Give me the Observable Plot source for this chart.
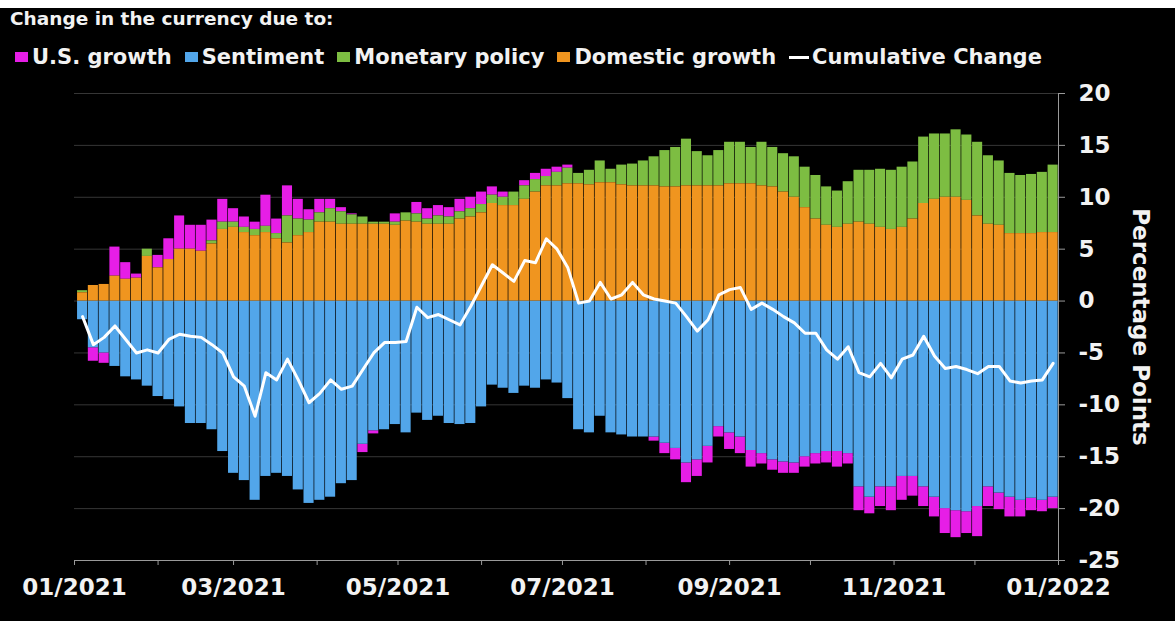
<!DOCTYPE html>
<html><head><meta charset="utf-8">
<script src="https://cdn.jsdelivr.net/npm/d3@7"></script>
<script src="https://cdn.jsdelivr.net/npm/@observablehq/plot@0.6"></script>
<style>
html,body{margin:0;padding:0;background:#fff;}
#wrap{position:absolute;left:0;top:8px;width:1175px;height:613px;background:#000;overflow:hidden;font-family:"DejaVu Sans",Verdana,sans-serif;font-weight:bold;color:#f2f2f2;}
#title{position:absolute;left:10px;top:0px;font-size:18.5px;line-height:21px;}
#legend{position:absolute;left:15px;top:38px;font-size:21px;line-height:22px;display:flex;align-items:center;white-space:nowrap;}
.item{display:flex;align-items:center;margin-right:13px;}
.sw{width:13px;height:10px;margin-right:4px;}
.ln{width:20px;height:3px;background:#fff;margin-right:3px;}
#chart{position:absolute;left:0;top:72px;}
</style></head><body>
<div id="wrap"><div id="title"></div><div id="legend"></div><div id="chart"></div></div>
<script>
const titleText = "Change in the currency due to:";
const seriesNames = ["U.S. growth", "Sentiment", "Monetary policy", "Domestic growth"];
const seriesColors = ["#e61ee6", "#52a6ea", "#7dbd42", "#f0951f"];
const stackOrder = ["Domestic growth", "Monetary policy", "Sentiment", "U.S. growth"];
const lineName = "Cumulative Change";
const yLabel = "Percentage Points";
const startDate = "2021-01-04";
const endDate = "2022-01-01";
const stepDays = 4;
const yTicks = [20, 15, 10, 5, 0, -5, -10, -15, -20, -25];

const domestic = [0.8,1.5,1.6,2.4,2.1,2.2,4.3,3.2,4.0,5.0, 5.0,4.8,5.5,6.9,7.1,6.6,6.3,6.6,6.0,5.6, 6.3,6.6,7.6,7.6,7.4,7.4,7.4,7.4,7.4,7.3, 7.7,7.6,7.4,7.4,7.4,7.9,8.1,8.5,9.4,9.2, 9.2,9.8,10.5,11.1,11.1,11.3,11.3,11.2,11.4,11.4, 11.2,11.1,11.1,11.1,11.0,11.0,11.1,11.1,11.1,11.1, 11.3,11.3,11.3,11.1,11.0,10.5,10.0,9.0,7.9,7.3, 7.1,7.4,7.6,7.4,7.1,6.9,7.1,7.9,9.4,9.8, 10.0,10.0,9.7,8.2,7.4,7.3,6.5,6.5,6.5,6.6, 6.6];
const monetary = [0.2,0,0,0,0,0,0.7,0,0,0, 0,0,0.3,0.7,0.5,0.5,0.6,0.6,0.5,2.6, 1.6,1.2,0.9,1.3,1.2,0.9,0.7,0.2,0.2,0.3, 0.8,0.8,0.5,0.8,0.7,0.7,0.8,0.8,0.8,0.8, 1.3,1.3,1.2,0.9,1.3,1.5,1.0,1.4,2.1,1.3, 1.9,2.1,2.4,2.8,3.5,3.8,4.5,3.3,2.9,3.4, 4.0,4.0,3.5,4.2,3.8,3.7,3.9,3.9,4.2,3.7, 3.5,4.1,5.0,5.2,5.6,5.7,5.8,5.5,6.4,6.3, 6.1,6.5,6.3,7.1,6.6,6.2,5.8,5.6,5.7,5.8, 6.5];
const usGrowth = [0,-1.3,-1.0,2.8,1.6,0.4,0,1.2,2.0,3.2, 2.3,2.5,2.0,2.2,1.3,1.0,0.7,3.0,1.4,2.9, 1.9,1.0,1.3,0.9,0.4,0.1,-0.8,-0.3,0,0.8, 0,1.1,1.0,1.0,0.9,1.2,1.1,1.2,0.8,0.5, 0,0.5,0.6,0.7,0.5,0.3,0,0,0,0, 0,0,0,-0.4,-1.0,-1.1,-1.9,-1.6,-1.6,-1.0, -1.6,-1.6,-1.6,-1.0,-1.0,-1.1,-1.0,-1.0,-1.0,-1.1, -1.5,-1.0,-2.3,-1.6,-1.9,-2.3,-2.3,-1.9,-1.9,-1.9, -2.4,-2.6,-2.1,-2.9,-1.9,-1.6,-1.9,-1.6,-1.2,-1.1, -1.1];
const sentiment = [-1.8,-4.5,-5.0,-6.3,-7.3,-7.6,-8.2,-9.2,-9.5,-10.2, -11.8,-11.8,-12.4,-14.5,-16.6,-17.3,-19.2,-16.9,-16.6,-16.9, -18.2,-19.5,-19.2,-18.9,-17.6,-17.3,-13.8,-12.5,-12.4,-11.9, -12.7,-10.8,-11.5,-11.1,-11.8,-11.9,-11.8,-10.2,-8.1,-8.4, -8.9,-8.2,-8.4,-7.6,-7.9,-9.4,-12.4,-12.7,-11.1,-12.7, -12.9,-13.1,-13.1,-13.1,-13.7,-14.2,-15.6,-15.3,-14.0,-12.1, -12.7,-13.1,-14.4,-14.7,-15.3,-15.5,-15.6,-15.0,-14.7,-14.5, -14.5,-14.7,-17.9,-18.9,-17.9,-17.9,-16.9,-16.9,-17.9,-18.9, -20.0,-20.2,-20.3,-19.8,-17.9,-18.5,-18.9,-19.2,-19.0,-19.2, -18.9];
const cumulative = [-1.5,-4.2,-3.5,-2.4,-3.7,-5.0,-4.7,-5.0,-3.7,-3.2, -3.4,-3.5,-4.2,-5.0,-7.3,-8.2,-11.1,-6.9,-7.6,-5.6, -7.6,-9.8,-8.9,-7.6,-8.5,-8.2,-6.6,-5.0,-4.0,-4.0, -3.9,-0.6,-1.6,-1.3,-1.8,-2.3,-0.5,1.5,3.5,2.7, 1.9,3.9,3.7,6.0,5.0,3.2,-0.2,0.0,1.8,0.2, 0.6,1.8,0.6,0.2,0.0,-0.2,-1.5,-2.9,-1.8,0.6, 1.1,1.3,-0.8,-0.2,-0.8,-1.5,-2.1,-3.1,-3.1,-4.7, -5.6,-4.4,-6.9,-7.3,-6.0,-7.4,-5.6,-5.2,-3.4,-5.3, -6.5,-6.3,-6.6,-7.0,-6.3,-6.3,-7.7,-7.9,-7.7,-7.6, -6.0];

const dates = d3.utcDay.range(new Date(startDate), new Date(endDate), stepDays);
const n = Math.min(dates.length, domestic.length);
const valuesBySeries = {"U.S. growth": usGrowth, "Sentiment": sentiment, "Monetary policy": monetary, "Domestic growth": domestic};
const rows = [];
for (let i = 0; i < n; i++) {
  for (const s of seriesNames) {
    rows.push({x1: d3.utcDay.offset(dates[i], -stepDays / 2), x2: d3.utcDay.offset(dates[i], stepDays / 2), series: s, value: valuesBySeries[s][i]});
  }
}
const lineRows = dates.slice(0, n).map((d, i) => ({date: d, value: cumulative[i]}));

// title + legend
document.getElementById("title").textContent = titleText;
const legend = document.getElementById("legend");
seriesNames.forEach((s, k) => {
  const it = document.createElement("div"); it.className = "item";
  const sw = document.createElement("div"); sw.className = "sw"; sw.style.background = seriesColors[k];
  const tx = document.createElement("span"); tx.textContent = s;
  it.append(sw, tx); legend.append(it);
});
{
  const it = document.createElement("div"); it.className = "item";
  const ln = document.createElement("div"); ln.className = "ln";
  const tx = document.createElement("span"); tx.textContent = lineName;
  it.append(ln, tx); legend.append(it);
}

const xDomain = [new Date("2021-01-01"), new Date(endDate)];
const yDomain = [-25, 20];
const monthTicks = d3.utcMonth.range(xDomain[0], d3.utcDay.offset(xDomain[1], 1));
const fmt = d3.utcFormat("%m/%Y");

const chart = Plot.plot({
  width: 1175, height: 541,
  marginLeft: 74, marginRight: 117, marginTop: 13, marginBottom: 61,
  style: {background: "transparent", color: "#f2f2f2", fontFamily: "DejaVu Sans, sans-serif", fontSize: "23px", fontWeight: "bold"},
  x: {type: "utc", domain: xDomain},
  y: {domain: yDomain},
  color: {domain: seriesNames, range: seriesColors},
  marks: [
    Plot.ruleY(yTicks, {stroke: "#363636", strokeWidth: 1}),
    Plot.rectY(rows, Plot.stackY({x1: "x1", x2: "x2", y: "value", fill: "series", order: stackOrder, insetLeft: 0.35, insetRight: 0.35})),
    Plot.line(lineRows, {x: "date", y: "value", stroke: "#ffffff", strokeWidth: 3, strokeLinejoin: "round"}),
    Plot.ruleY([yDomain[0]], {stroke: "#9a9a9a"}),
    Plot.ruleX([xDomain[1]], {y1: yDomain[0], y2: yDomain[1], stroke: "#9a9a9a"}),
    Plot.axisX({ticks: monthTicks, tickFormat: d => d.getUTCMonth() % 2 === 0 ? fmt(d) : "", tickSize: 5, tickPadding: 13, stroke: "#9a9a9a", fill: "#f2f2f2", label: null}),
    Plot.axisY({anchor: "right", ticks: yTicks, tickFormat: d => String(d), tickSize: 6, tickPadding: 14, stroke: "#9a9a9a", fill: "#f2f2f2", label: null}),
    Plot.text([yLabel], {frameAnchor: "right", dx: 82, rotate: 90, textAnchor: "middle", fontSize: 23, fontWeight: "bold", fill: "#f2f2f2"})
  ]
});
document.getElementById("chart").append(chart);
</script>
</body></html>
